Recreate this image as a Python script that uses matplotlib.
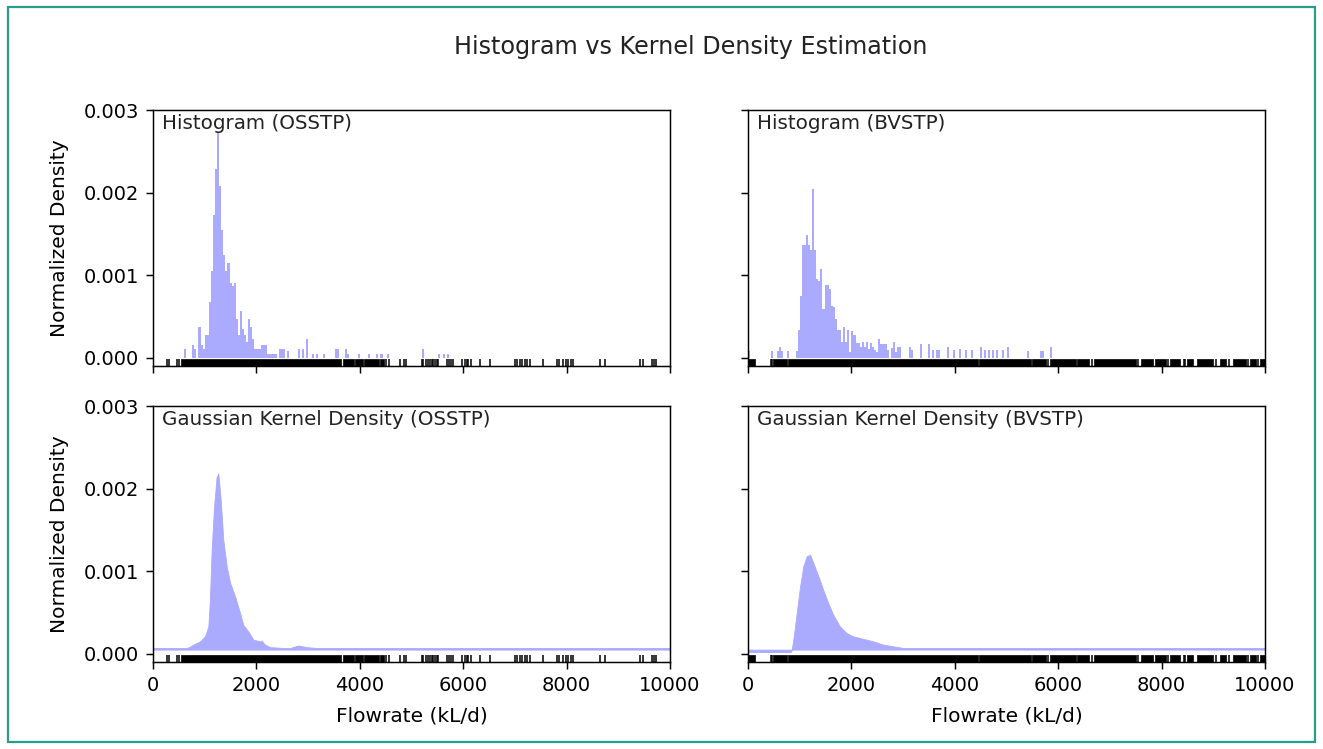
import matplotlib
matplotlib.use("Agg")
import matplotlib.pyplot as plt
from matplotlib.patches import Rectangle

# ---------------- data ----------------
bin_width = 40  # kL/d

osstp_hist_left = [600, 760, 800, 880, 920, 960, 1000, 1040, 1080, 1120, 1160, 1200,
                   1240, 1280, 1320, 1360, 1400, 1440, 1480, 1520, 1560, 1600, 1640,
                   1680, 1720, 1760, 1800, 1840, 1880, 1920, 1960, 2000, 2040, 2080,
                   2120, 2160, 2200, 2240, 2280, 2320, 2360, 2440, 2480, 2520, 2600,
                   2800, 2880, 2960, 3080, 3160, 3280, 3520, 3560, 3720, 3760, 3960,
                   4160, 4320, 4400, 4520, 5200, 5520, 5600, 5680]
osstp_hist_height = [0.00011, 0.00016, 0.00011, 0.00037, 0.00016, 0.00011, 0.00027, 0.00027,
                     0.00067, 0.00105, 0.00173, 0.00228, 0.00272, 0.00208, 0.00155, 0.00125,
                     0.00105, 0.00115, 0.00091, 0.00087, 0.00091, 0.00047, 0.00027, 0.00057,
                     0.00035, 0.00027, 0.00019, 0.00047, 0.00037, 0.00023, 0.00011, 0.00011,
                     0.00011, 0.00016, 0.00016, 0.00016, 0.00005, 0.00005, 0.00005, 0.00005,
                     0.00005, 0.00010, 0.00010, 0.00010, 0.00008, 0.00010, 0.00010, 0.00023,
                     0.00005, 0.00005, 0.00005, 0.00010, 0.00010, 0.00010, 0.00005, 0.00005,
                     0.00005, 0.00005, 0.00005, 0.00005, 0.00010, 0.00005, 0.00005, 0.00005]

bvstp_hist_left = [0, 440, 560, 600, 640, 760, 920, 960, 1000, 1040, 1080, 1120, 1160, 1200,
                   1240, 1280, 1320, 1360, 1400, 1440, 1480, 1520, 1560, 1600, 1640, 1680,
                   1720, 1760, 1800, 1840, 1880, 1920, 1960, 2000, 2040, 2080, 2120, 2160,
                   2200, 2240, 2280, 2320, 2360, 2400, 2440, 2480, 2520, 2560, 2600, 2640,
                   2680, 2760, 2800, 2840, 2880, 2920, 3120, 3160, 3320, 3480, 3560, 3640,
                   3680, 3840, 3960, 4080, 4200, 4320, 4480, 4560, 4640, 4720, 4800, 4920,
                   5000, 5400, 5640, 5680, 5840]
bvstp_hist_height = [0.00008, 0.00008, 0.00008, 0.00013, 0.00008, 0.00008, 0.00008, 0.00033,
                     0.00075, 0.00137, 0.00137, 0.00149, 0.00137, 0.00131, 0.00204, 0.00131,
                     0.00095, 0.00093, 0.00107, 0.00059, 0.00088, 0.00088, 0.00083, 0.00063,
                     0.00061, 0.00047, 0.00033, 0.00033, 0.00019, 0.00037, 0.00019, 0.00033,
                     0.00007, 0.00032, 0.00027, 0.00018, 0.00018, 0.00013, 0.00019, 0.00013,
                     0.00019, 0.00011, 0.00018, 0.00013, 0.00009, 0.00007, 0.00023, 0.00017,
                     0.00017, 0.00017, 0.00009, 0.00012, 0.00019, 0.00007, 0.00013, 0.00013,
                     0.00013, 0.00009, 0.00017, 0.00017, 0.00009, 0.00009, 0.00009, 0.00013,
                     0.00009, 0.00011, 0.00009, 0.00009, 0.00013, 0.00009, 0.00009, 0.00009,
                     0.00009, 0.00009, 0.00013, 0.00008, 0.00008, 0.00008, 0.00013]

# Gaussian kernel density curves
kde_baseline = 0.00005
osstp_kde_x = [0, 650, 700, 780, 910, 1005, 1070, 1100, 1135, 1180, 1230, 1264, 1310,
               1360, 1425, 1490, 1585, 1685, 1745, 1845, 1940, 2070, 2100, 2165, 2265,
               2520, 2650, 2810, 2970, 3165, 3425, 3620, 10000]
osstp_kde_y = [0.00007, 0.00007, 0.00008, 0.00011, 0.00015, 0.00021, 0.00033, 0.00065,
               0.00126, 0.00178, 0.00214, 0.00218, 0.00186, 0.00138, 0.00106, 0.00086,
               0.00070, 0.00049, 0.00035, 0.00027, 0.00017, 0.00015, 0.00016, 0.00011,
               0.00008, 0.00007, 0.00007, 0.00010, 0.00008, 0.00007, 0.00007, 0.00007,
               0.00007]
bvstp_kde_x = [0, 830, 845, 877, 941, 1006, 1070, 1135, 1199, 1264, 1360, 1457, 1554,
               1650, 1779, 1908, 2037, 2231, 2424, 2617, 2811, 3004, 10000]
bvstp_kde_y = [0.00002, 0.00002, 0.00005, 0.00017, 0.00049, 0.00081, 0.00106, 0.00118,
               0.00120, 0.00110, 0.00094, 0.00077, 0.00061, 0.00047, 0.00033, 0.00025,
               0.00021, 0.00018, 0.00015, 0.00011, 0.00009, 0.00007, 0.00007]

# Rug of observations: dense runs (start, end) and single observations
osstp_rug_runs = [(540, 3640), (3670, 3880), (3900, 4060), (4080, 4380), (4400, 4470)]
osstp_rug_ticks = [262, 300, 471, 496, 4500, 4571, 4777, 4855, 4893, 5196, 5230, 5280,
                   5325, 5360, 5400, 5422, 5454, 5490, 5519, 5680, 5720, 5760, 5809, 5970,
                   6035, 6067, 6100, 6144, 6324, 6518, 7002, 7050, 7100, 7131, 7195, 7240,
                   7292, 7550, 7808, 7859, 7937, 7980, 8030, 8080, 8130, 8646, 8742, 9420,
                   9484, 9645, 9690, 9729]
bvstp_rug_runs = [(0, 135), (490, 745), (768, 4440), (4470, 5470), (5500, 5770),
                  (5850, 6340), (6370, 6600), (6700, 7500), (7600, 7830), (7880, 8090),
                  (8170, 8350), (8490, 8610), (8680, 9000), (9130, 9250), (9390, 9640),
                  (9710, 9830), (9900, 10000)]
bvstp_rug_ticks = [438, 464, 5800, 6650, 7550, 8130, 8430, 8450, 9060, 9300, 9680, 9860]

title = "Histogram vs Kernel Density Estimation"
panel_titles = [["Histogram (OSSTP)", "Histogram (BVSTP)"],
                ["Gaussian Kernel Density (OSSTP)", "Gaussian Kernel Density (BVSTP)"]]
x_ticks = [0, 2000, 4000, 6000, 8000, 10000]
y_ticks = [0.000, 0.001, 0.002, 0.003]
x_label = "Flowrate (kL/d)"
y_label = "Normalized Density"

# ---------------- style ----------------
fill_color = "#aaaaff"
fs_tick = 14
fs_label = 14.5
fs_panel = 14.3
rug_bottom, rug_top = -0.0001, -0.00002
plt.rcParams["font.family"] = ["DejaVu Sans"]
plt.rcParams["axes.linewidth"] = 1.05

fig = plt.figure(figsize=(13.23, 7.49), dpi=100)
W, H = 1323, 749
lefts = [153, 748]
tops = [110, 406]
aw, ah = 517, 256
axes = [[None, None], [None, None]]
for r in range(2):
    for c in range(2):
        ax = fig.add_axes([lefts[c] / W, 1 - (tops[r] + ah) / H, aw / W, ah / H])
        axes[r][c] = ax

hist_data = [(osstp_hist_left, osstp_hist_height), (bvstp_hist_left, bvstp_hist_height)]
kde_data = [(osstp_kde_x, osstp_kde_y), (bvstp_kde_x, bvstp_kde_y)]
rug_data = [(osstp_rug_runs, osstp_rug_ticks), (bvstp_rug_runs, bvstp_rug_ticks)]

for c in range(2):
    # histogram
    ax = axes[0][c]
    left, height = hist_data[c]
    ax.bar(left, height, width=bin_width, align="edge", color=fill_color, linewidth=0)
    # kde
    ax = axes[1][c]
    kx, ky = kde_data[c]
    ax.fill_between(kx, ky, kde_baseline, color=fill_color, linewidth=0.6)
    for r in range(2):
        ax = axes[r][c]
        runs, ticks = rug_data[c]
        for a, b in runs:
            ax.fill_between([a, b], rug_bottom, rug_top, color="black", linewidth=0.5)
        ax.vlines(ticks, rug_bottom, rug_top, color="black", linewidth=1.1)

for r in range(2):
    for c in range(2):
        ax = axes[r][c]
        ax.set_xlim(0, 10000)
        ax.set_ylim(-0.0001, 0.003)
        ax.set_xticks(x_ticks)
        ax.set_yticks(y_ticks)
        ax.tick_params(direction="out", length=5, width=1.05, labelsize=fs_tick, pad=5)
        ax.text(0.017, 0.985, panel_titles[r][c], transform=ax.transAxes,
                ha="left", va="top", fontsize=fs_panel, color="#222222")
        if r == 0:
            ax.tick_params(labelbottom=False)
        else:
            ax.set_xlabel(x_label, fontsize=fs_label)
            ax.xaxis.set_label_coords(0.5, -0.172)
        if c == 1:
            ax.tick_params(labelleft=False)
        else:
            ax.yaxis.set_major_formatter(matplotlib.ticker.FormatStrFormatter("%.3f"))
            ax.set_ylabel(y_label, fontsize=fs_label)
            ax.yaxis.set_label_coords(-0.162, 0.5)

fig.text(0.522, 1 - 47 / H, title, ha="center", va="center", fontsize=17.2, color="#222222")

# teal frame around the picture
fig.patches.append(Rectangle((8 / W, 7 / H), (1315 - 8) / W, (742 - 7) / H,
                             transform=fig.transFigure, fill=False,
                             edgecolor="#2a9d8a", linewidth=1.6))

fig.savefig("out.png", dpi=100)
